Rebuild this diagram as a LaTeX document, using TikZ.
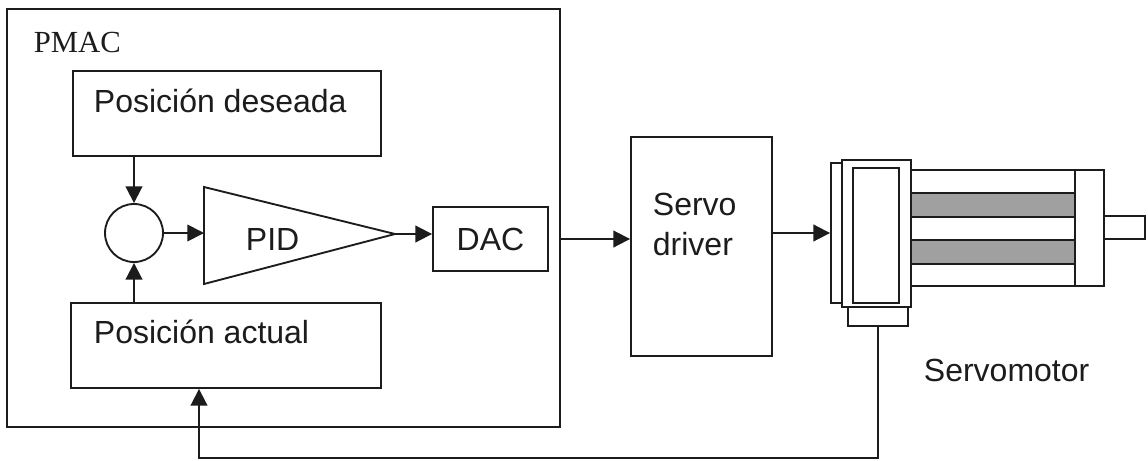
\documentclass[tikz,border=0pt]{standalone}
\usepackage{fontspec}
\setmainfont{Liberation Sans}
\newfontfamily\pmacserif{Liberation Serif}
\usetikzlibrary{arrows.meta}
\definecolor{ink}{RGB}{28,28,28}
\definecolor{barfill}{RGB}{160,160,160}
\begin{document}
\begin{tikzpicture}[x=0.75pt,y=-0.75pt,color=ink,line width=1.4pt,
  box/.style={draw,rectangle,inner sep=0pt,fill=white},
  lbl/.style={inner sep=0pt,font=\fontsize{24}{30}\selectfont},
  arr/.style={-{Triangle[length=12.5pt,width=12.5pt]}},
  bar/.style={draw,fill=barfill,line width=2.2pt}]
\path[use as bounding box,fill=white] (0,0) rectangle (1148,460);

% controller card
\node[box,minimum width=414.75pt,minimum height=313.5pt] (pmac) at (283.5,218) {};
\node[lbl,font=\pmacserif\fontsize{23}{28}\selectfont,anchor=base west] (pmaclbl) at (33,53) {PMAC};

\node[box,minimum width=231pt,minimum height=63.75pt] (des) at (227,113.5) {};
\node[lbl,anchor=base west] (deslbl) at (93,112) {Posición deseada};

\node[box,minimum width=232.5pt,minimum height=63.75pt] (act) at (226,345.5) {};
\node[lbl,anchor=base west] (actlbl) at (93,343) {Posición actual};

\node[draw,circle,minimum size=43.5pt,inner sep=0pt] (sum) at (134,233) {};

% PID gain block
\coordinate (pidtop) at (204,187);
\coordinate (pidbot) at (204,284);
\coordinate (pidin) at (204,233);
\coordinate (pidout) at (395,234);
\draw[line join=miter] (pidtop) -- (pidout) -- (pidbot) -- cycle;
\node[lbl,anchor=base west] (pidlbl) at (245,250) {PID};

\node[box,lbl,draw,fill=white,minimum width=86.25pt,minimum height=48pt] (dac) at (490.5,239) {DAC};

% servo driver
\node[box,minimum width=105.75pt,minimum height=164.25pt] (drv) at (701.5,246.5) {};
\node[lbl,anchor=north west,align=left] (drvlbl) at (652,192) {Servo\\driver};

% servomotor
\draw[fill=white] (911,170) rectangle (1104,286);
\draw[bar] (911,193) rectangle (1075,217);
\draw[bar] (911,240) rectangle (1075,264);
\draw (1075,170) -- (1075,286);
\draw[fill=white] (1104,216) rectangle (1145,239);
\draw[fill=white] (842,160) rectangle (911,307);
\draw (853,168) rectangle (899,303);
\node[box,minimum width=8.25pt,minimum height=105pt] (plate) at (836.5,233) {};
\node[box,minimum width=45pt,minimum height=14.25pt] (enc) at (878,316.5) {};
\node[lbl,anchor=base west] (motlbl) at (923,381) {Servomotor};

% signal flow
\draw[arr] (sum.north |- des.south) -- (sum.north);
\draw[arr] (sum.south |- act.north) -- (sum.south);
\draw[arr] (sum.east) -- (pidin);
\draw[arr] (pidout) -- (dac.west |- pidout);
\draw[arr] (pmac.east |- dac.east) -- (drv.west |- dac.east);
\draw[arr] (drv.east |- plate.west) -- (plate.west);
\coordinate (fbc) at (199,458);
\draw[arr] (enc.south) |- (fbc) -- (fbc |- act.south);
\end{tikzpicture}
\end{document}
